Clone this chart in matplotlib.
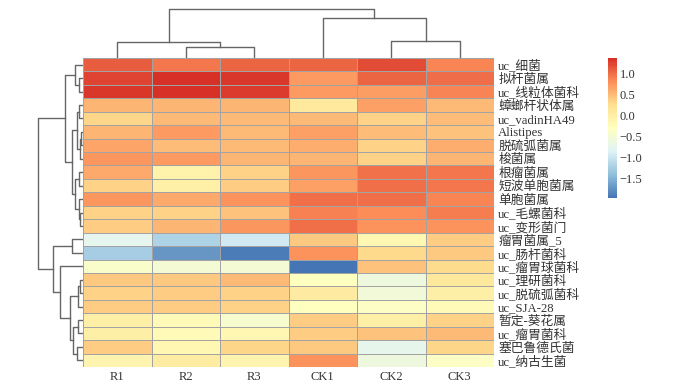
import numpy as np
import matplotlib
matplotlib.use("Agg")
import matplotlib.pyplot as plt
from matplotlib.colors import LinearSegmentedColormap, Normalize
from matplotlib.cm import ScalarMappable

plt.rcParams["font.family"] = ["Liberation Serif", "Noto Sans CJK SC"]

# Sloupce a řádky (pořadí jak po shlukování)
SAMPLES = ["R1", "R2", "R3", "CK1", "CK2", "CK3"]

TAXA = [
    "uc_细菌", "拟杆菌属", "uc_线粒体菌科", "蟑螂杆状体属", "uc_vadinHA49",
    "Alistipes", "脱硫弧菌属", "梭菌属", "根瘤菌属", "短波单胞菌属",
    "单胞菌属", "uc_毛螺菌科", "uc_变形菌门", "瘤胃菌属_5", "uc_肠杆菌科",
    "uc_瘤胃球菌科", "uc_理研菌科", "uc_脱硫弧菌科", "uc_SJA-28", "暂定-葵花属",
    "uc_瘤胃菌科", "塞巴鲁德氏菌", "uc_纳古生菌",
]

# Hodnoty odečtené z barev buněk (R1, R2, R3, CK1, CK2, CK3)
VALUES = [
    [1.10, 0.95, 1.05, 1.05, 1.20, 0.85],
    [1.25, 1.37, 1.33, 0.72, 1.05, 1.00],
    [1.33, 1.36, 1.30, 0.72, 0.70, 0.87],
    [0.55, 0.55, 0.55, 0.10, 0.69, 0.52],
    [0.32, 0.52, 0.52, 0.52, 0.35, 0.49],
    [0.55, 0.72, 0.52, 0.69, 0.49, 0.45],
    [0.65, 0.49, 0.52, 0.59, 0.35, 0.59],
    [0.75, 0.72, 0.55, 0.55, 0.35, 0.55],
    [0.62, -0.06, 0.35, 0.75, 0.97, 0.95],
    [0.35, -0.03, 0.39, 0.69, 0.99, 0.95],
    [0.75, 0.62, 0.78, 0.99, 0.99, 0.85],
    [0.35, 0.35, 0.45, 0.88, 0.82, 0.91],
    [0.39, 0.55, 0.75, 0.99, 0.78, 0.78],
    [-0.75, -1.20, -0.95, 0.42, -0.15, 0.39],
    [-1.25, -1.70, -1.90, 0.78, 0.30, 0.42],
    [-0.40, -0.50, -0.50, -1.96, 0.45, 0.29],
    [0.42, 0.42, 0.52, -0.30, -0.60, 0.12],
    [0.35, 0.39, 0.35, 0.06, -0.55, 0.00],
    [0.39, 0.39, 0.35, -0.30, -0.35, -0.20],
    [0.00, -0.20, -0.45, 0.39, 0.00, 0.35],
    [0.00, -0.20, -0.15, 0.39, 0.45, 0.52],
    [0.39, -0.15, 0.32, 0.42, -0.72, 0.32],
    [-0.10, 0.05, -0.10, 0.78, -0.60, -0.35],
]

# Shlukování: (levý, pravý, výška), id < n jsou listy v zobrazeném pořadí
ROW_LINKAGE = [
    (1, 2, 3.7), (0, 23, 8.0), (3, 4, 3.7), (5, 6, 2.0), (26, 7, 3.0),
    (25, 27, 6.3), (8, 9, 4.0), (11, 12, 3.0), (10, 30, 4.5), (29, 31, 8.0),
    (28, 32, 11.3), (24, 33, 18.0), (13, 14, 11.3), (16, 17, 3.0), (36, 18, 4.7),
    (19, 20, 4.7), (21, 22, 6.3), (38, 39, 10.3), (37, 40, 13.0), (15, 41, 23.0),
    (35, 42, 30.3), (34, 43, 44.7),
]

COL_LINKAGE = [
    (1, 2, 11.3), (0, 6, 16.3), (4, 5, 17.0), (3, 8, 39.7), (7, 9, 49.0),
]

CBAR_TICKS = [-1.5, -1.0, -0.5, 0.0, 0.5, 1.0]

# pheatmap-like paleta
PALETTE = ["#4575B4", "#91BFDB", "#E0F3F8", "#FFFFBF", "#FEE090", "#FC8D59", "#D73027"]

DENDRO_COLOR = "#666666"
TEXT_COLOR = "#333333"


def dendro_segments(linkage, n):
    """Vrátí seznam úseček (pozice, výška) pro dendrogram."""
    pos = {i: float(i) for i in range(n)}
    height = {i: 0.0 for i in range(n)}
    segs = []
    for k, (a, b, h) in enumerate(linkage):
        pa, pb = pos[a], pos[b]
        segs.append(([pa, pa, pb, pb], [height[a], h, h, height[b]]))
        pos[n + k] = (pa + pb) / 2
        height[n + k] = h
    return segs


def main():
    data = np.array(VALUES)
    n_rows, n_cols = data.shape

    W, H = 679, 386
    fig = plt.figure(figsize=(W / 100, H / 100), dpi=100)

    def px_axes(x0, y0, x1, y1):
        return fig.add_axes([x0 / W, 1 - y1 / H, (x1 - x0) / W, (y1 - y0) / H])

    cmap = LinearSegmentedColormap.from_list("pheat", PALETTE, N=256)
    norm = Normalize(vmin=data.min(), vmax=data.max())

    # Heatmapa
    ax = px_axes(83, 58, 494, 367)
    ax.pcolormesh(
        np.arange(n_cols + 1) - 0.5,
        np.arange(n_rows + 1) - 0.5,
        data,
        cmap=cmap,
        norm=norm,
        edgecolors="#a3a3a3",
        linewidth=0.5,
    )
    ax.set_xlim(-0.5, n_cols - 0.5)
    ax.set_ylim(n_rows - 0.5, -0.5)
    ax.set_xticks(range(n_cols))
    ax.set_xticklabels(SAMPLES, fontsize=9, color=TEXT_COLOR)
    ax.yaxis.tick_right()
    ax.set_yticks(range(n_rows))
    ax.set_yticklabels(TAXA, fontsize=9.2, color=TEXT_COLOR)
    ax.tick_params(length=0, pad=3)
    for s in ax.spines.values():
        s.set_visible(False)

    # Dendrogram sloupců
    axc = px_axes(83, 0, 494, 58)
    for xs, ys in dendro_segments(COL_LINKAGE, n_cols):
        axc.plot(xs, ys, color=DENDRO_COLOR, lw=1.0)
    axc.set_xlim(-0.5, n_cols - 0.5)
    axc.set_ylim(0, 58)
    axc.axis("off")

    # Dendrogram řádků
    axr = px_axes(0, 58, 83, 367)
    for ys, xs in dendro_segments(ROW_LINKAGE, n_rows):
        axr.plot(xs, ys, color=DENDRO_COLOR, lw=1.0)
    axr.set_ylim(n_rows - 0.5, -0.5)
    axr.set_xlim(83, 0)
    axr.axis("off")

    # Barevná škála
    axb = px_axes(608, 58, 617, 198)
    cb = fig.colorbar(ScalarMappable(norm=norm, cmap=cmap), cax=axb)
    cb.outline.set_visible(False)
    cb.set_ticks(CBAR_TICKS)
    cb.ax.tick_params(length=0, labelsize=9, pad=2, labelcolor=TEXT_COLOR)

    fig.savefig("out.png", dpi=100)


if __name__ == "__main__":
    main()
